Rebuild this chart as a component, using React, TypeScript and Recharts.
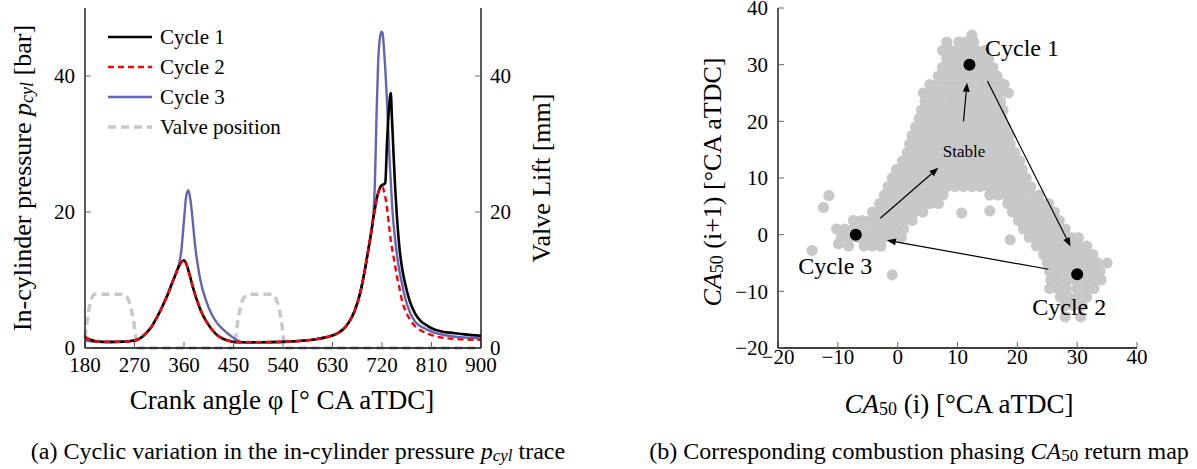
import React from "react"
import {
    LineChart,
    Line,
    XAxis,
    YAxis,
    ScatterChart,
    Scatter,
} from "recharts"

// ---- (a) pressure traces ----
const crankAngle = [
    180, 190, 200, 220, 240, 260, 270, 280, 290, 300,
    310, 320, 330, 340, 345, 350, 355, 360, 364, 368,
    372, 376, 380, 385, 390, 400, 410, 420, 430, 440,
    450, 460, 470, 480, 500, 540, 580, 600, 620, 640,
    650, 660, 670, 680, 690, 695, 700, 704, 707, 710,
    713, 716, 719, 721, 724, 726, 729, 733, 736, 738,
    741, 744, 747, 752, 756, 762, 770, 780, 790, 800,
    810, 830, 850, 870, 900,
]
const cycle1Pressure = [
    1.6, 1.2, 1.0, 0.9, 0.9, 1.0, 1.1, 1.4, 2.1, 3.0,
    4.4, 6.0, 7.8, 9.9, 10.9, 11.9, 12.6, 12.9, 12.4, 11.4,
    10.2, 9.0, 7.9, 6.7, 5.6, 4.0, 2.8, 1.9, 1.4, 1.1,
    0.9, 0.85, 0.85, 0.85, 0.85, 0.9, 1.1, 1.3, 1.6, 2.2,
    2.8, 3.8, 5.4, 8.0, 12.0, 14.4, 16.8, 19.0, 20.4, 21.8,
    22.8, 23.5, 23.9, 24.0, 24.1, 24.3, 30.0, 35.5, 37.5, 34.0,
    28.5, 23.5, 19.5, 14.5, 12.0, 9.5, 7.0, 5.1, 4.0, 3.4,
    2.9, 2.4, 2.2, 2.0, 1.8,
]
const cycle2Pressure = [
    1.6, 1.2, 1.0, 0.9, 0.9, 1.0, 1.1, 1.4, 2.1, 3.0,
    4.4, 6.0, 7.8, 9.9, 10.9, 11.9, 12.6, 12.9, 12.4, 11.4,
    10.2, 9.0, 7.9, 6.7, 5.6, 4.0, 2.8, 1.9, 1.4, 1.1,
    0.9, 0.85, 0.85, 0.85, 0.85, 0.9, 1.1, 1.3, 1.6, 2.2,
    2.8, 3.8, 5.4, 8.0, 12.0, 14.4, 16.8, 19.0, 20.4, 21.8,
    22.8, 23.4, 23.6, 23.7, 22.9, 22.2, 20.7, 17.8, 15.8, 14.8,
    13.4, 12.0, 10.6, 8.7, 7.1, 5.6, 4.3, 3.2, 2.6, 2.2,
    1.9, 1.5, 1.35, 1.25, 1.2,
]
const cycle3Pressure = [
    1.1, 1.0, 0.9, 0.85, 0.9, 1.0, 1.1, 1.4, 2.1, 3.0,
    4.4, 6.0, 7.8, 9.9, 10.9, 12.0, 14.2, 18.8, 22.3, 23.2,
    21.6, 18.6, 15.2, 12.2, 9.9, 7.0, 5.0, 3.7, 2.8, 2.1,
    1.5, 1.0, 0.8, 0.8, 0.85, 0.9, 1.1, 1.3, 1.6, 2.2,
    2.8, 3.8, 5.4, 8.0, 12.0, 14.4, 16.8, 19.3, 24.0, 34.0,
    42.0, 45.5, 46.5, 46.3, 43.5, 41.0, 36.5, 29.0, 24.5, 21.5,
    18.2, 15.9, 13.8, 11.2, 9.6, 7.4, 5.4, 3.9, 3.2, 2.8,
    2.4, 1.95, 1.7, 1.55, 1.4,
]
const valveAngle = [180, 184, 190, 198, 250, 259, 268, 276, 450, 459, 468, 480, 519, 528, 537, 544, 900]
const valveLift = [1.5, 4.0, 6.8, 7.9, 7.9, 7.1, 4.1, 0, 0, 4.6, 7.3, 7.9, 7.9, 7.1, 4.1, 0, 0]

const angleTicks = [180, 270, 360, 450, 540, 630, 720, 810, 900]
const pressureTicks = [0, 20, 40]

// ---- (b) CA50 return map ----
const phasingTicks = [-20, -10, 0, 10, 20, 30, 40]
// rows of the grey cloud: [CA50(i+1), CA50(i) values]
const cloudRows: [number, number[]][] = [
    [35.2, [12.4]],
    [34.0, [8.2, 10.2, 11.3, 12.7]],
    [32.5, [7.5, 8.9, 10.3, 11.7, 13.1, 14.5]],
    [31.0, [8.2, 9.6, 11.0, 12.4, 13.8, 15.2]],
    [29.5, [7.5, 8.9, 10.3, 11.7, 13.1, 14.5, 15.9]],
    [28.0, [6.8, 8.2, 9.6, 11.0, 12.4, 13.8, 15.2, 16.6]],
    [26.5, [5.4, 6.8, 8.2, 9.6, 11.0, 12.4, 13.8, 15.2, 16.6, 17.8]],
    [25.0, [4.3, 5.7, 7.1, 8.5, 9.9, 11.3, 12.7, 14.1, 15.5, 16.9, 18.5]],
    [23.5, [4.6, 6.0, 7.4, 8.8, 10.2, 11.6, 13.0, 14.4, 15.8, 17.2]],
    [22.0, [4.0, 5.4, 6.8, 8.2, 9.6, 11.0, 12.4, 13.8, 15.2, 16.6, 17.6]],
    [20.5, [3.6, 5.0, 6.4, 7.8, 9.2, 10.6, 12.0, 13.4, 14.8, 16.2, 17.4]],
    [19.0, [3.0, 4.4, 5.8, 7.2, 8.6, 10.0, 11.4, 12.8, 14.2, 15.6, 17.0, 18.0]],
    [17.5, [2.4, 3.8, 5.2, 6.6, 8.0, 9.4, 10.8, 12.2, 13.6, 15.0, 16.4, 17.8, 18.6]],
    [16.0, [2.0, 3.4, 4.8, 6.2, 7.6, 9.0, 10.4, 11.8, 13.2, 14.6, 16.0, 17.4, 18.8]],
    [14.5, [1.6, 3.0, 4.4, 5.8, 7.2, 8.6, 10.0, 11.4, 12.8, 14.2, 15.6, 17.0, 18.4, 19.6]],
    [13.0, [0.8, 2.2, 3.6, 5.0, 6.4, 7.8, 9.2, 10.6, 12.0, 13.4, 14.8, 16.2, 17.6, 19.0, 20.4]],
    [11.5, [-0.2, 1.2, 2.6, 4.0, 5.4, 6.8, 8.2, 9.6, 11.0, 12.4, 13.8, 15.2, 16.6, 18.0, 19.4, 20.8]],
    [10.0, [-0.9, 0.5, 1.9, 3.3, 4.7, 6.1, 7.5, 8.9, 10.3, 11.7, 13.1, 14.5, 15.9, 17.3, 18.7, 20.1, 21.5]],
    [8.5, [-1.6, -0.2, 1.2, 2.6, 4.0, 5.4, 6.8, 8.2, 9.6, 11.0, 12.4, 13.8, 15.2, 16.6, 18.0, 19.4, 20.8, 22.2]],
    [7.0, [-2.2, -0.8, 0.6, 2.0, 3.4, 4.8, 6.2, 7.6, 15.4, 16.8, 18.2, 19.6, 21.0, 22.4, 23.6]],
    [5.5, [-3.0, -1.6, -0.2, 1.2, 2.6, 4.0, 5.4, 6.8, 18.4, 19.8, 21.2, 22.6, 24.0, 25.2]],
    [4.0, [-4.2, -2.8, -1.4, 0.0, 1.4, 2.8, 4.2, 19.2, 20.6, 22.0, 23.4, 24.8, 26.2]],
    [2.5, [-7.4, -6.0, -4.6, -3.2, -1.8, -0.4, 1.0, 2.4, 20.2, 21.6, 23.0, 24.4, 25.8, 27.0]],
    [1.0, [-10.2, -8.8, -7.4, -6.0, -4.6, -3.2, -1.8, -0.4, 1.0, 21.0, 22.4, 23.8, 25.2, 26.6, 28.0]],
    [-0.5, [-9.4, -8.0, -6.6, -5.2, -3.8, -2.4, -1.0, 0.6, 22.0, 23.4, 24.8, 26.2, 27.6, 29.0, 30.2]],
    [-2.0, [-8.2, -5.6, -4.2, -2.8, 23.2, 24.6, 26.0, 27.4, 28.8, 30.2, 31.6]],
    [-3.5, [24.4, 25.8, 27.2, 28.6, 30.0, 31.4, 32.6]],
    [-5.0, [25.0, 26.4, 27.8, 29.2, 30.6, 32.0, 33.4, 35.0]],
    [-6.5, [25.4, 26.8, 28.2, 29.6, 31.0, 32.4, 33.8]],
    [-8.0, [25.6, 27.0, 28.4, 29.8, 31.2, 32.6, 34.0]],
    [-9.5, [25.4, 26.8, 28.2, 30.0, 31.4, 32.8]],
    [-11.0, [27.2, 28.6, 30.2, 31.6]],
    [-12.5, [28.0, 29.4, 30.8]],
    [-14.5, [28.0, 30.6]],
]
const cloudStray: [number, number][] = [
    [-11.5, 6.9], [-12.4, 4.8], [-14.3, -2.8], [-0.9, -7.1], [18.8, -0.9],
    [15.4, 4.2], [10.7, 3.8], [17.1, 26.8], [-9.9, -1.6],
]
const cyclePoints = [
    { x: 12, y: 30 },
    { x: 30, y: -7 },
    { x: -7, y: 0 },
]
const cycleLabels = [
    { x: 14.6, y: 32.9, text: "Cycle 1", size: 24 },
    { x: 22.5, y: -12.7, text: "Cycle 2", size: 24 },
    { x: -16.6, y: -5.6, text: "Cycle 3", size: 24 },
]
const stableLabel = [{ x: 11.1, y: 14.6, text: "Stable", size: 17, mid: true }]
// [from x, from y, to x, to y]
const arrows: [number, number, number, number][] = [
    [11.0, 20.0, 11.6, 26.8],
    [-2.9, 2.9, 6.8, 11.8],
    [15.0, 27.1, 28.9, -2.1],
    [25.2, -6.1, -1.8, -1.0],
]

const pressureData = crankAngle.map((a, i) => ({
    angle: a,
    c1: cycle1Pressure[i],
    c2: cycle2Pressure[i],
    c3: cycle3Pressure[i],
}))
const valveData = valveAngle.map((a, i) => ({ angle: a, lift: valveLift[i] }))
const cloudData = [
    ...cloudRows.flatMap(([y, xs]) => xs.map((x) => ({ x, y }))),
    ...cloudStray.map(([x, y]) => ({ x, y })),
]

const SERIF = '"Liberation Serif", "Times New Roman", serif'
const minus = (v: number) => (v < 0 ? `\u2212${Math.abs(v)}` : `${v}`)

const legendItems = [
    { name: "Cycle 1", color: "#000000", dash: undefined, width: 2.6 },
    { name: "Cycle 2", color: "#ff0000", dash: "6 4", width: 2.4 },
    { name: "Cycle 3", color: "#6464b4", dash: undefined, width: 2.4 },
    { name: "Valve position", color: "#c8c8c8", dash: "8 5", width: 3.5 },
]

function BottomTick(props: any) {
    const { x, y, payload } = props
    return (
        <text x={x} y={y} dy="0.71em" textAnchor="middle" fontFamily={SERIF} fontSize={21} fill="#000">
            {minus(payload.value)}
        </text>
    )
}

function SideTick(props: any) {
    const { x, y, payload, textAnchor } = props
    return (
        <text x={x} y={y} dy="0.35em" textAnchor={textAnchor} fontFamily={SERIF} fontSize={21} fill="#000">
            {minus(payload.value)}
        </text>
    )
}

function ArrowLine(props: any) {
    const pts = props.points
    if (!pts || pts.length < 2) return null
    const { x: x1, y: y1 } = pts[0]
    const { x: x2, y: y2 } = pts[1]
    const dx = x2 - x1
    const dy = y2 - y1
    const len = Math.hypot(dx, dy) || 1
    const ux = dx / len
    const uy = dy / len
    const bx = x2 - ux * 9
    const by = y2 - uy * 9
    const head = `${x2},${y2} ${bx - uy * 3.5},${by + ux * 3.5} ${bx + uy * 3.5},${by - ux * 3.5}`
    return (
        <g>
            <line x1={x1} y1={y1} x2={bx} y2={by} stroke="#000" strokeWidth={1.2} />
            <polygon points={head} fill="#000" />
        </g>
    )
}

function TextMark(props: any) {
    const { cx, cy, payload } = props
    return (
        <text
            x={cx}
            y={cy}
            textAnchor={payload.mid ? "middle" : "start"}
            dominantBaseline="central"
            fontFamily={SERIF}
            fontSize={payload.size}
            fill="#000"
        >
            {payload.text}
        </text>
    )
}

const noLabel = () => <g />
const noShape = () => <g />
const axisLine = { stroke: "#000", strokeWidth: 1.3 }
const tickLine = { stroke: "#666" }

export default function App() {
    return (
        <div style={{ position: "absolute", left: 0, top: 0, width: 1197, height: 469, background: "#fff", fontFamily: SERIF }}>
            <div style={{ position: "absolute", left: 0, top: 0 }}>
                <LineChart width={600} height={420} data={pressureData} margin={{ top: 8, right: 0, bottom: 0, left: 0 }}>
                    <XAxis
                        dataKey="angle"
                        type="number"
                        domain={[180, 900]}
                        ticks={angleTicks}
                        height={72}
                        tick={<BottomTick />}
                        tickSize={-6}
                        tickMargin={15}
                        axisLine={axisLine}
                        tickLine={tickLine}
                        interval={0}
                    />
                    <XAxis
                        xAxisId="top"
                        orientation="top"
                        dataKey="angle"
                        type="number"
                        domain={[180, 900]}
                        ticks={angleTicks}
                        height={0}
                        tick={noLabel}
                        tickSize={-6}
                        axisLine={axisLine}
                        tickLine={tickLine}
                    />
                    <YAxis
                        yAxisId="p"
                        type="number"
                        domain={[0, 50]}
                        ticks={pressureTicks}
                        width={85}
                        tick={<SideTick />}
                        tickSize={-6}
                        tickMargin={16}
                        axisLine={axisLine}
                        tickLine={tickLine}
                        interval={0}
                    />
                    <YAxis
                        yAxisId="v"
                        orientation="right"
                        type="number"
                        domain={[0, 50]}
                        ticks={pressureTicks}
                        width={119}
                        tick={<SideTick />}
                        tickSize={-6}
                        tickMargin={15}
                        axisLine={axisLine}
                        tickLine={tickLine}
                        interval={0}
                    />
                    <Line
                        yAxisId="v"
                        data={valveData}
                        dataKey="lift"
                        name="Valve position"
                        type="monotone"
                        stroke="#c8c8c8"
                        strokeWidth={3.5}
                        strokeDasharray="8 5"
                        dot={false}
                        isAnimationActive={false}
                    />
                    <Line yAxisId="p" dataKey="c3" name="Cycle 3" type="monotone" stroke="#6464b4" strokeWidth={2.4} dot={false} isAnimationActive={false} />
                    <Line yAxisId="p" dataKey="c1" name="Cycle 1" type="monotone" stroke="#000000" strokeWidth={2.6} dot={false} isAnimationActive={false} />
                    <Line yAxisId="p" dataKey="c2" name="Cycle 2" type="monotone" stroke="#ff0000" strokeWidth={2.4} strokeDasharray="6 4" dot={false} isAnimationActive={false} />
                </LineChart>
            </div>

            <div style={{ position: "absolute", left: 640, top: 0 }}>
                <ScatterChart width={557} height={420} margin={{ top: 8, right: 60, bottom: 0, left: 0 }}>
                    <XAxis
                        dataKey="x"
                        type="number"
                        domain={[-20, 40]}
                        ticks={phasingTicks}
                        height={72}
                        tick={<BottomTick />}
                        tickSize={-6}
                        tickMargin={7}
                        axisLine={axisLine}
                        tickLine={tickLine}
                        interval={0}
                    />
                    <XAxis
                        xAxisId="top"
                        orientation="top"
                        dataKey="x"
                        type="number"
                        domain={[-20, 40]}
                        ticks={phasingTicks}
                        height={0}
                        tick={noLabel}
                        tickSize={-6}
                        axisLine={axisLine}
                        tickLine={tickLine}
                    />
                    <YAxis
                        dataKey="y"
                        type="number"
                        domain={[-20, 40]}
                        ticks={phasingTicks}
                        width={138}
                        tick={<SideTick />}
                        tickSize={-6}
                        tickMargin={16}
                        axisLine={axisLine}
                        tickLine={tickLine}
                        interval={0}
                    />
                    <YAxis
                        yAxisId="right"
                        orientation="right"
                        dataKey="y"
                        type="number"
                        domain={[-20, 40]}
                        ticks={phasingTicks}
                        width={0}
                        tick={noLabel}
                        tickSize={-6}
                        axisLine={axisLine}
                        tickLine={tickLine}
                    />
                    <Scatter
                        data={cloudData}
                        fill="#c8c8c8"
                        shape={(p: any) => <circle cx={p.cx} cy={p.cy} r={5.6} fill="#c8c8c8" />}
                        isAnimationActive={false}
                    />
                    {arrows.map(([x1, y1, x2, y2], i) => (
                        <Scatter
                            key={`arrow${i}`}
                            data={[{ x: x1, y: y1 }, { x: x2, y: y2 }]}
                            line={<ArrowLine />}
                            shape={noShape}
                            isAnimationActive={false}
                        />
                    ))}
                    <Scatter
                        data={cyclePoints}
                        fill="#000"
                        shape={(p: any) => <circle cx={p.cx} cy={p.cy} r={6} fill="#000" />}
                        isAnimationActive={false}
                    />
                    <Scatter data={cycleLabels} shape={<TextMark />} isAnimationActive={false} />
                    <Scatter data={stableLabel} shape={<TextMark />} isAnimationActive={false} />
                </ScatterChart>
            </div>

            <svg width={1197} height={469} style={{ position: "absolute", left: 0, top: 0, pointerEvents: "none" }} fontFamily={SERIF}>
                {legendItems.map((it, i) => (
                    <g key={it.name} transform={`translate(0, ${37 + i * 30})`}>
                        <line x1={108} x2={152} y1={0} y2={0} stroke={it.color} strokeWidth={it.width} strokeDasharray={it.dash} />
                        <text x={160} y={0} dominantBaseline="central" fontSize={21} fill="#000">
                            {it.name}
                        </text>
                    </g>
                ))}
                <text transform="translate(22,178) rotate(-90)" textAnchor="middle" dominantBaseline="central" fontSize={26}>
                    In-cylinder pressure <tspan fontStyle="italic">p</tspan>
                    <tspan fontStyle="italic" fontSize={18} dy={5}>cyl</tspan>
                    <tspan dy={-5}> [bar]</tspan>
                </text>
                <text transform="translate(541,178) rotate(-90)" textAnchor="middle" dominantBaseline="central" fontSize={26}>
                    Valve Lift [mm]
                </text>
                <text x={282} y={400} textAnchor="middle" dominantBaseline="central" fontSize={27}>
                    Crank angle φ [° CA aTDC]
                </text>
                <text transform="translate(712,182) rotate(-90)" textAnchor="middle" dominantBaseline="central" fontSize={26}>
                    <tspan fontStyle="italic">CA</tspan>
                    <tspan fontSize={18} dy={5}>50</tspan>
                    <tspan dy={-5}> (i+1) [°CA aTDC]</tspan>
                </text>
                <text x={959} y={404} textAnchor="middle" dominantBaseline="central" fontSize={27}>
                    <tspan fontStyle="italic">CA</tspan>
                    <tspan fontSize={18} dy={5}>50</tspan>
                    <tspan dy={-5}> (i) [°CA aTDC]</tspan>
                </text>
                <text x={298} y={451} textAnchor="middle" dominantBaseline="central" fontSize={24}>
                    (a) Cyclic variation in the in-cylinder pressure <tspan fontStyle="italic">p</tspan>
                    <tspan fontStyle="italic" fontSize={17} dy={4}>cyl</tspan>
                    <tspan dy={-4}> trace</tspan>
                </text>
                <text x={919} y={451} textAnchor="middle" dominantBaseline="central" fontSize={24}>
                    (b) Corresponding combustion phasing <tspan fontStyle="italic">CA</tspan>
                    <tspan fontSize={17} dy={4}>50</tspan>
                    <tspan dy={-4}> return map</tspan>
                </text>
            </svg>
        </div>
    )
}
